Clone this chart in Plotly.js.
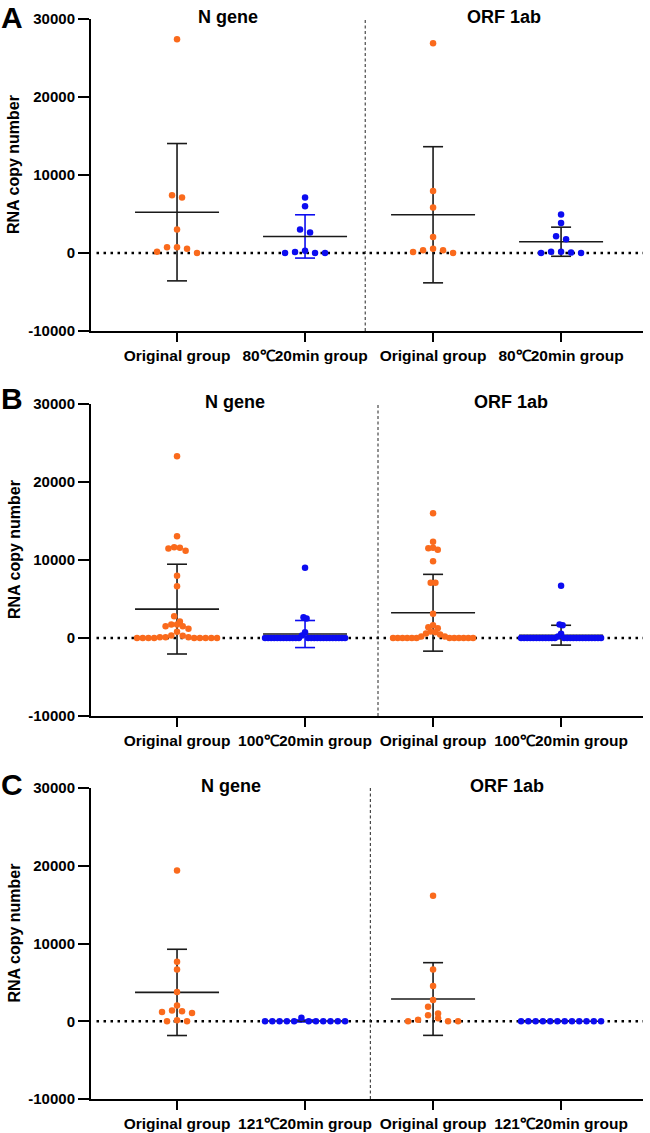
<!DOCTYPE html>
<html><head><meta charset="utf-8">
<script src="https://cdn.plot.ly/plotly-3.0.1.min.js"></script>
<style>html,body{margin:0;padding:0;background:#fff}#chart{width:650px;height:1133px}</style>
</head><body><div id="chart"></div>
<script>
// ---------- DATA ----------
const panelLetters = ['A', 'B', 'C'];
const geneTitles = ['N gene', 'ORF 1ab'];
const tickLabelsA = ['Original group', '80℃20min group', 'Original group', '80℃20min group'];
const tickLabelsB = ['Original group', '100℃20min group', 'Original group', '100℃20min group'];
const tickLabelsC = ['Original group', '121℃20min group', 'Original group', '121℃20min group'];
const yTickValues = [-10000, 0, 10000, 20000, 30000];
const yTickLabels = ['-10000', '0', '10000', '20000', '30000'];
const yAxisTitle = 'RNA copy number';

// Panel A (80℃ 20 min)
const A_N_original = [27400, 7100, 7400, 3000, 170, 730, 550, 730, 0];
const A_N_80C = [7100, 5990, 3000, 2620, 280, 0, 130, 0, 0];
const A_ORF_original = [26900, 7950, 5820, 2050, 130, 560, 350, 350, 0];
const A_ORF_80C = [4920, 3850, 2140, 1750, 150, 50, 150, 0, 0];

// Panel B (100℃ 20 min)
const B_N_original = [23300, 13050, 11470, 11560, 11640, 11180, 7970, 6640, 2800, 2120,
  1730, 1730, 1510, 1510, 1180, 790, 320, 290, 100, 100, 100, 0, 0, 0, 0, 0, 0, 0, 0, 0];
const B_N_100C = [9000, 2670, 2500, 750, 320, 0, 0, 0, 0, 0, 0, 0, 0, 0, 0,
  0, 0, 0, 0, 0, 0, 0, 0, 0, 0, 0, 0, 0, 0, 0];
const B_ORF_original = [16000, 12330, 11300, 11560, 11510, 9850, 7080, 7080, 3100, 1640,
  1260, 1380, 750, 830, 580, 450, 200, 200, 0, 0, 0, 0, 0, 0, 0, 0, 0, 0, 0, 0];
const B_ORF_100C = [6690, 1640, 1730, 540, 200, 0, 0, 0, 0, 0, 0, 0, 0, 0, 0,
  0, 0, 0, 0, 0, 0, 0, 0, 0, 0, 0, 0, 0, 0, 0];

// Panel C (121℃ 20 min)
const C_N_original = [19400, 7650, 6670, 3760, 2010, 1070, 1370, 1280, 1200, 0, 0, 130];
const C_N_121C = [0, 440, 0, 0, 0, 0, 0, 0, 0, 0, 0, 0];
const C_ORF_original = [16150, 6670, 4530, 2740, 1850, 1000, 400, 770, 0, 0, 200, 0];
const C_ORF_121C = [0, 0, 0, 0, 0, 0, 0, 0, 0, 0, 0, 0];

// ---------- STYLE / LAYOUT ----------
const W = 650, H = 1133;
const ORANGE = '#FA6A1C', BLUE = '#0C0CF0', LINE = '#1a1a1a';
const FONT = "Arial, 'Liberation Sans', Helvetica, sans-serif";
const X_LEFT = 91, X_RIGHT = 643;
const XR = [-0.672, 3.64];
const PX_PER_UNIT = (X_RIGHT - X_LEFT) / (XR[1] - XR[0]);
const panelTopPx = [19, 404, 788];
const panelBottomPx = [331, 716, 1099];
const dividerX = [1.47, 1.57, 1.51];
const letterTopPx = [0, 381, 767];

const panels = [
  { ticks: tickLabelsA, groups: [A_N_original, A_N_80C, A_ORF_original, A_ORF_80C] },
  { ticks: tickLabelsB, groups: [B_N_original, B_N_100C, B_ORF_original, B_ORF_100C] },
  { ticks: tickLabelsC, groups: [C_N_original, C_N_121C, C_ORF_original, C_ORF_121C] }
];
const groupColors = [ORANGE, BLUE, ORANGE, BLUE];
const errColors = [
  [LINE, BLUE, LINE, LINE],
  [LINE, BLUE, LINE, LINE],
  [LINE, BLUE, LINE, LINE]
];

const px = x => x / W;
const py = y => 1 - y / H;

// GraphPad-like row swarm
const SPACING_PX = 10, MAX_SPREAD_PX = 80;
function swarmX(values, center, valPerPx) {
  const rowVal = 7 * valPerPx;
  const idx = values.map((v, i) => i).sort((a, b) => values[a] - values[b]);
  const rows = []; let cur = null;
  for (const i of idx) {
    if (!cur || values[i] - cur.start > rowVal) { cur = { start: values[i], items: [] }; rows.push(cur); }
    cur.items.push(i);
  }
  const nmax = Math.max(...rows.map(r => r.items.length));
  const sp = nmax > 1 ? Math.min(SPACING_PX, MAX_SPREAD_PX / (nmax - 1)) : SPACING_PX;
  const xs = new Array(values.length);
  rows.forEach(r => {
    const items = r.items.slice().sort((a, b) => values[b] - values[a]);
    const m = items.length;
    const slots = [];
    for (let k = 0; k < m; k++) slots.push(k - (m - 1) / 2);
    slots.sort((a, b) => Math.abs(a) - Math.abs(b) || a - b);
    items.forEach((it, k) => { xs[it] = center + slots[k] * sp / PX_PER_UNIT; });
  });
  return xs;
}
const mean = a => a.reduce((s, v) => s + v, 0) / a.length;
const sd = a => { const m = mean(a); return Math.sqrt(a.reduce((s, v) => s + (v - m) * (v - m), 0) / (a.length - 1)); };

const traces = [];
const layout = {
  width: W, height: H, margin: { l: 0, r: 0, t: 0, b: 0 },
  paper_bgcolor: '#fff', plot_bgcolor: 'rgba(0,0,0,0)',
  showlegend: false, font: { family: FONT, color: '#000' },
  shapes: [], annotations: []
};

panels.forEach((p, pi) => {
  const sfx = pi === 0 ? '' : String(pi + 1);
  const xa = 'x' + sfx, ya = 'y' + sfx;
  const valPerPx = 40000 / (panelBottomPx[pi] - panelTopPx[pi]);
  layout['xaxis' + sfx] = {
    domain: [px(X_LEFT), px(X_RIGHT)], anchor: ya, range: XR,
    tickvals: [0, 1, 2, 3], ticktext: p.ticks,
    ticks: 'outside', ticklen: 9, tickwidth: 2, tickcolor: '#000',
    showline: true, linewidth: 2, linecolor: '#000',
    showgrid: false, zeroline: false, fixedrange: true,
    tickfont: { family: FONT, size: 15.5, color: '#000', weight: 'bold' }
  };
  layout['yaxis' + sfx] = {
    domain: [py(panelBottomPx[pi]), py(panelTopPx[pi])], anchor: xa, range: [-10000, 30000],
    tickvals: yTickValues, ticktext: yTickLabels,
    ticks: 'outside', ticklen: 11, tickwidth: 2, tickcolor: '#000',
    showline: true, linewidth: 2, linecolor: '#000',
    showgrid: false, zeroline: false, fixedrange: true,
    tickfont: { family: FONT, size: 15, color: '#000', weight: 'bold' }
  };
  // dotted zero line
  layout.shapes.push({ type: 'line', xref: xa + ' domain', x0: 0.01, x1: 1, yref: ya, y0: 0, y1: 0,
    line: { color: '#000', width: 2.5, dash: '2.5px,4.5px' }, layer: 'below' });
  // divider
  layout.shapes.push({ type: 'line', xref: xa, x0: dividerX[pi], x1: dividerX[pi], yref: ya + ' domain', y0: 0, y1: 1,
    line: { color: '#222', width: 1, dash: '3px,2.5px' }, layer: 'below' });
  // gene titles, centred on each half
  const halves = [(XR[0] + dividerX[pi]) / 2, (dividerX[pi] + XR[1]) / 2];
  geneTitles.forEach((t, ti) => layout.annotations.push({
    text: t, xref: xa, x: halves[ti], xanchor: 'center', yref: 'paper', y: py(panelTopPx[pi] - 2), yanchor: 'middle',
    showarrow: false, font: { family: FONT, size: 18, color: '#000', weight: 'bold' }
  }));
  // panel letter
  layout.annotations.push({ text: panelLetters[pi], xref: 'paper', x: 0, xanchor: 'left', yref: 'paper', y: py(letterTopPx[pi]),
    yanchor: 'top', borderpad: 0, showarrow: false, font: { family: FONT, size: 30, color: '#000', weight: 'bold' } });
  // y-axis title
  layout.annotations.push({ text: yAxisTitle, xref: 'paper', x: px(14), xanchor: 'center', yref: 'paper',
    y: py((panelTopPx[pi] + panelBottomPx[pi]) / 2 - 10), yanchor: 'middle', textangle: -90, showarrow: false,
    font: { family: FONT, size: 16, color: '#000', weight: 'bold' } });

  p.groups.forEach((vals, gi) => {
    const c = gi;
    const m = mean(vals), s = sd(vals);
    const cw = 10 / PX_PER_UNIT, mw = 42 / PX_PER_UNIT;
    // error bar
    traces.push({ type: 'scatter', mode: 'lines', xaxis: xa, yaxis: ya, hoverinfo: 'skip',
      x: [c, c, null, c - cw, c + cw, null, c - cw, c + cw],
      y: [m - s, m + s, null, m + s, m + s, null, m - s, m - s],
      line: { color: errColors[pi][gi], width: 1.6 } });
    // mean line
    traces.push({ type: 'scatter', mode: 'lines', xaxis: xa, yaxis: ya, hoverinfo: 'skip',
      x: [c - mw, c + mw], y: [m, m], line: { color: LINE, width: 1.6 } });
    // points
    traces.push({ type: 'scatter', mode: 'markers', xaxis: xa, yaxis: ya,
      x: swarmX(vals, c, valPerPx), y: vals,
      marker: { color: groupColors[gi], size: 6.5, line: { width: 0 } } });
  });
});

Plotly.newPlot('chart', traces, layout, { staticPlot: true, displayModeBar: false });
</script>
</body></html>
